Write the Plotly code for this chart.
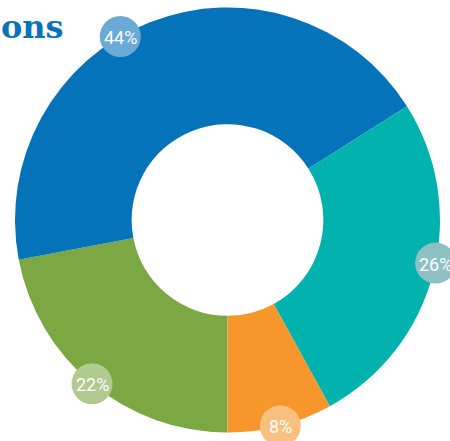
import math
import plotly.graph_objects as go

# data (clockwise order starting at 6 o'clock)
categories = ["Green", "Blue", "Teal", "Orange"]
values = [22, 44, 26, 8]
pct_labels = ["22%", "44%", "26%", "8%"]
slice_colors = ["#7ba843", "#0573ba", "#00b2ad", "#f7962a"]
bubble_colors = ["#b0ca8f", "#6aaad7", "#8ebfc3", "#fac080"]
title_text = "ons"

W, H = 450, 441
CX, CY, R = 227.5, 220.0, 212.5
START = 180.0  # degrees clockwise from 12 o'clock
BUBBLE_R = 20.5
LABEL_NUDGE = {1: -8.7, 2: -2.7}  # style: small angular shifts of some bubbles

fig = go.Figure()
fig.add_trace(go.Pie(
    labels=categories, values=values, sort=False, direction="clockwise",
    rotation=START, hole=0.451, textinfo="none", hoverinfo="label+percent",
    marker=dict(colors=slice_colors, line=dict(width=0)),
    domain=dict(x=[(CX - R) / W, (CX + R) / W],
                y=[(H - CY - R) / H, (H - CY + R) / H]),
    showlegend=False,
))

total = sum(values)
acc = 0.0
for i, v in enumerate(values):
    mid = START + (acc + v / 2) / total * 360.0 + LABEL_NUDGE.get(i, 0.0)
    acc += v
    t = math.radians(mid)
    bx = CX + R * math.sin(t)
    by = CY - R * math.cos(t)
    fig.add_shape(type="circle", xref="x", yref="y", layer="above",
                  x0=bx - BUBBLE_R, x1=bx + BUBBLE_R,
                  y0=by - BUBBLE_R, y1=by + BUBBLE_R,
                  fillcolor=bubble_colors[i], line=dict(width=0))
    fig.add_annotation(x=bx, y=by + 1, xref="x", yref="y", text=pct_labels[i],
                       showarrow=False, xanchor="center", yanchor="middle",
                       font=dict(family="Roboto", size=18, color="white"))

fig.add_annotation(
    x=0, y=1 - 27 / H, xref="paper", yref="paper", text="<b>" + title_text + "</b>",
    showarrow=False, xanchor="left", yanchor="middle", borderpad=0,
    font=dict(family="DejaVu Serif", size=32, color="#0a72b8"),
)

fig.update_layout(
    width=W, height=H, margin=dict(l=0, r=0, t=0, b=0),
    paper_bgcolor="white", plot_bgcolor="rgba(0,0,0,0)",
    xaxis=dict(range=[0, W], visible=False, domain=[0, 1], fixedrange=True),
    yaxis=dict(range=[H, 0], visible=False, domain=[0, 1], fixedrange=True),
)

fig.write_html("out.html")
